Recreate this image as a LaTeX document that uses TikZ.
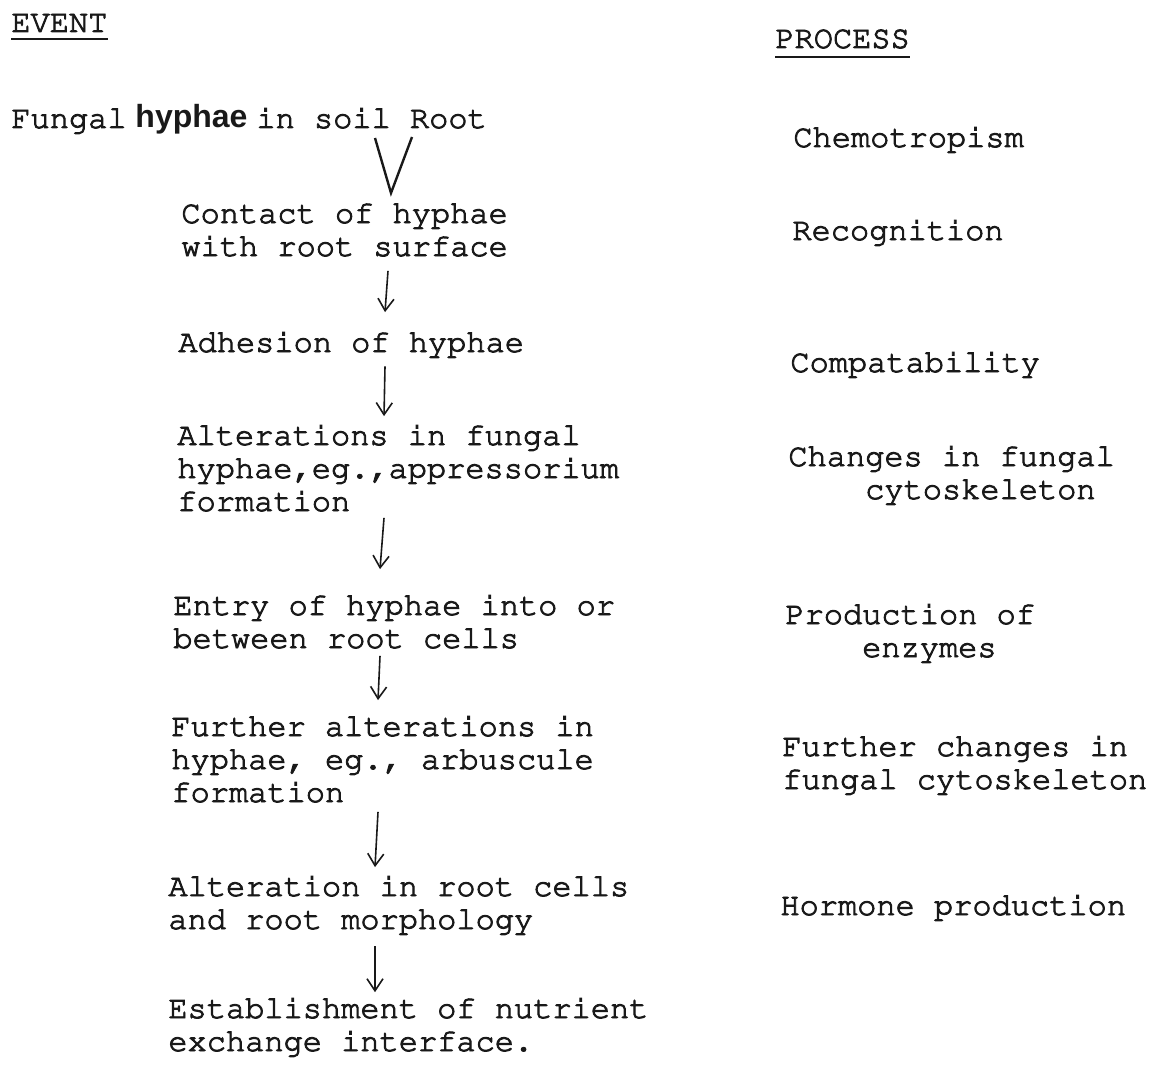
\documentclass[tikz,border=0pt]{standalone}
\usepackage[T1]{fontenc}
\usepackage{fontspec}
\newfontfamily\hyfont{Liberation Sans}
\newcommand\typew{\fontencoding{T1}\fontfamily{pcr}\selectfont}
\newcommand\inkon{\special{pdf:literal direct 2 Tr 0.45 w}}
\newcommand\inkoff{\special{pdf:literal direct 0 Tr}}
\usetikzlibrary{arrows.meta,calc}

\tikzset{
  txt/.style={anchor=base west,inner sep=0pt,align=left,text=black!90,font=\typew\fontsize{16pt}{16.5pt}\selectfont,
    execute at begin node=\inkon,execute at end node=\inkoff},
  arr/.style={-{Straight Barb[length=6pt,width=8pt]},line width=0.8pt,black!90},
  uline/.style={line width=1pt,black!90}
}

\begin{document}
\begin{tikzpicture}[x=0.5pt,y=-0.5pt]
  \useasboundingbox (0,0) rectangle (1149,1064);
  % headings
  \node[txt] (event) at (11,32) {EVENT};
  \draw[uline] ($(event.base west)+(0,7)$) -- ($(event.base east)+(0,7)$);
  \node[txt] (process) at (775,48) {PROCESS};
  \draw[uline] ($(process.base west)+(0,9)$) -- ($(process.base east)+(0,9)$);
  % events (placed by the baseline of their last line)
  \node[txt] (fungal) at (11,128) {Fungal{\inkoff\hyfont\bfseries\ hyphae\ \inkon}in soil Root};
  \coordinate (soilend) at (375,138); \coordinate (rootend) at (412,137); \coordinate (meet) at (391,193);
  \draw[uline,line width=1.2pt] (soilend) -- (meet) -- (rootend);
  \node[txt] (contact) at (181,256) {Contact of hyphae\\with root surface};
  \node[txt] (adhesion) at (178,352) {Adhesion of hyphae};
  \node[txt] (alter) at (177,511) {Alterations in fungal\\hyphae,eg.,appressorium\\formation};
  \node[txt] (entry) at (173,648) {Entry of hyphae into or\\between root cells};
  \node[txt] (further) at (171,802) {Further alterations in\\hyphae, eg., arbuscule\\formation};
  \node[txt] (rootalt) at (168,929) {Alteration in root cells\\and root morphology};
  \node[txt] (nutrient) at (168,1051) {Establishment of nutrient\\exchange interface.};
  \foreach \a/\b/\s/\e in {contact/adhesion/14/19,adhesion/alter/9/8,alter/entry/6/25,entry/further/7/15,further/rootalt/9/8,rootalt/nutrient/12/5}
    \draw[arr] ($(\a.south west)+(207,\s)$) -- ($(\b.north west)+(207,-\e)$);
  % processes
  \node[txt] (chemo) at (793,147) {Chemotropism};
  \node[txt] (recog) at (792,240) {Recognition};
  \node[txt] (compat) at (790,372) {Compatability};
  \node[txt] (changes) at (788,499) {Changes in fungal\\\hspace*{2.4em}cytoskeleton};
  \node[txt] (enzymes) at (785,657) {Production of\\\hspace*{2.4em}enzymes};
  \node[txt] (morechanges) at (782,789) {Further changes in\\fungal cytoskeleton};
  \node[txt] (hormone) at (780,915) {Hormone production};
\end{tikzpicture}
\end{document}
